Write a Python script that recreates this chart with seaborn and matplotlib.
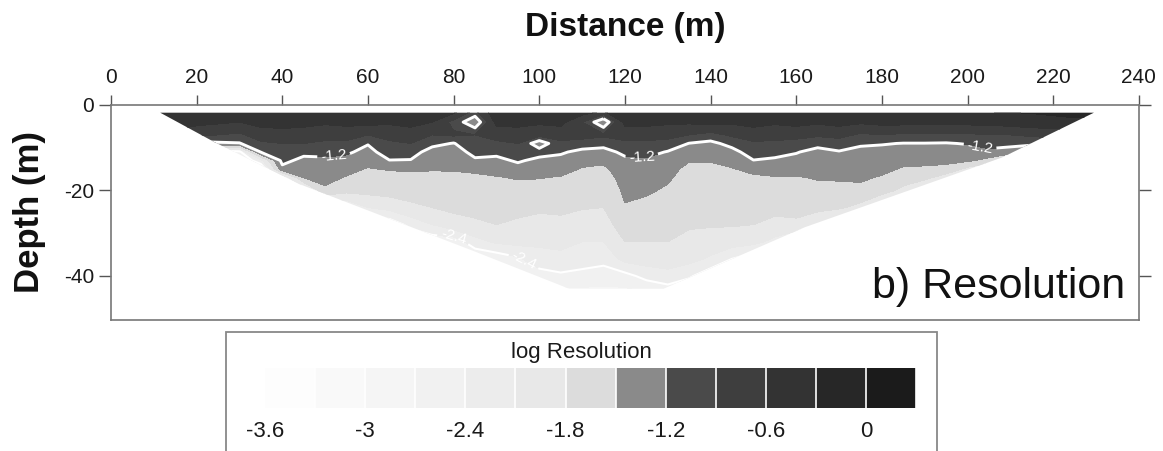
import numpy as np
import matplotlib
matplotlib.use("Agg")
import matplotlib.pyplot as plt
from matplotlib.patches import Polygon, Rectangle
import seaborn as sns

# ---------------- data ----------------
distance_m = [10, 15, 20, 25, 30, 35, 40, 45, 50, 55, 60, 65, 70, 75, 80, 85, 90,
              95, 100, 105, 110, 115, 120, 125, 130, 135, 140, 145, 150, 155, 160,
              165, 170, 175, 180, 185, 190, 195, 200, 205, 210, 215, 220, 225, 230]
depth_m = [-1, -4, -7, -9, -11, -13, -15, -17, -20, -24, -28, -32, -36, -40, -44]

# log10 resolution, one list per distance column (top -> bottom, same order as depth_m)
log_res_columns = [
    [-0.3, -0.45, -0.7, -0.9, -1.1, -1.3, -1.5, -1.8, -2.2, -2.5, -2.6, -2.6, -2.6, -2.6, -2.6],   # 10
    [-0.3, -0.45, -0.7, -0.9, -1.1, -1.3, -1.5, -1.8, -2.2, -2.5, -2.6, -2.6, -2.6, -2.6, -2.6],   # 15
    [-0.35, -0.5, -0.85, -1.3, -1.8, -2.3, -2.5, -2.5, -2.5, -2.5, -2.5, -2.5, -2.5, -2.5, -2.5],  # 20
    [-0.35, -0.55, -0.9, -1.25, -2.6, -2.7, -2.7, -2.7, -2.7, -2.7, -2.7, -2.7, -2.7, -2.7, -2.7], # 25
    [-0.4, -0.6, -0.95, -1.22, -2.5, -2.7, -2.7, -2.7, -2.7, -2.7, -2.7, -2.7, -2.7, -2.7, -2.7],  # 30
    [-0.35, -0.5, -0.75, -0.95, -1.18, -2.2, -2.7, -2.7, -2.7, -2.7, -2.7, -2.7, -2.7, -2.7, -2.7],# 35
    [-0.25, -0.5, -0.7, -0.9, -1.0, -1.1, -1.3, -2.4, -2.7, -2.7, -2.7, -2.7, -2.7, -2.7, -2.7],   # 40
    [-0.35, -0.5, -0.75, -0.9, -1.1, -1.3, -1.42, -1.5, -2.3, -2.7, -2.7, -2.7, -2.7, -2.7, -2.7], # 45
    [-0.4, -0.55, -0.8, -0.95, -1.1, -1.27, -1.35, -1.42, -1.55, -2.5, -2.7, -2.7, -2.7, -2.7, -2.7],  # 50
    [-0.35, -0.5, -0.8, -0.95, -1.15, -1.3, -1.42, -1.52, -1.7, -2.4, -2.7, -2.7, -2.7, -2.7, -2.7],   # 55
    [-0.4, -0.5, -0.9, -1.18, -1.3, -1.4, -1.52, -1.65, -1.7, -2.1, -2.6, -2.7, -2.7, -2.7, -2.7],     # 60
    [-0.35, -0.55, -0.8, -0.95, -1.05, -1.21, -1.48, -1.6, -1.68, -2.0, -2.6, -2.7, -2.7, -2.7, -2.7], # 65
    [-0.35, -0.5, -0.75, -0.9, -1.05, -1.22, -1.45, -1.6, -1.7, -1.85, -2.3, -2.7, -2.7, -2.7, -2.7],  # 70
    [-0.35, -0.6, -0.9, -1.1, -1.35, -1.4, -1.48, -1.58, -1.7, -1.8, -2.1, -2.6, -2.7, -2.7, -2.7],    # 75
    [-0.4, -1.0, -0.85, -1.22, -1.35, -1.42, -1.48, -1.56, -1.65, -1.75, -1.9, -2.6, -2.7, -2.7, -2.7],# 80
    [-0.9, -1.45, -0.9, -0.95, -1.1, -1.25, -1.45, -1.55, -1.65, -1.72, -1.85, -2.2, -2.7, -2.7, -2.7],# 85
    [-0.35, -0.5, -0.8, -0.95, -1.1, -1.3, -1.4, -1.52, -1.62, -1.7, -1.8, -2.05, -2.6, -2.7, -2.7],   # 90
    [-0.25, -0.5, -0.75, -0.9, -1.0, -1.15, -1.35, -1.48, -1.6, -1.72, -1.85, -2.0, -2.45, -2.7, -2.7],# 95
    [-0.35, -0.55, -0.8, -1.4, -1.05, -1.3, -1.42, -1.49, -1.6, -1.75, -1.9, -2.05, -2.2, -2.55, -2.7],# 100
    [-0.3, -0.5, -0.8, -0.95, -1.15, -1.32, -1.4, -1.52, -1.6, -1.72, -1.9, -2.0, -2.2, -2.45, -2.8],  # 105
    [-0.35, -0.9, -0.8, -1.0, -1.3, -1.42, -1.52, -1.6, -1.68, -1.78, -1.95, -2.1, -2.25, -2.5, -2.8], # 110
    [-0.5, -1.45, -0.85, -1.05, -1.35, -1.45, -1.55, -1.62, -1.7, -1.8, -1.95, -2.1, -2.3, -2.55, -2.8],# 115
    [-0.35, -0.5, -0.8, -0.95, -1.1, -1.3, -1.35, -1.4, -1.45, -1.52, -1.62, -1.8, -2.0, -2.5, -2.8],  # 120
    [-0.3, -0.5, -0.8, -0.95, -1.1, -1.25, -1.32, -1.38, -1.45, -1.6, -1.7, -1.8, -1.95, -2.3, -2.7],  # 125
    [-0.35, -0.55, -0.8, -1.0, -1.22, -1.3, -1.38, -1.45, -1.55, -1.65, -1.75, -1.8, -1.95, -2.2, -2.6],# 130
    [-0.35, -0.55, -0.9, -1.21, -1.35, -1.48, -1.6, -1.65, -1.68, -1.72, -1.78, -1.85, -2.0, -2.35, -2.7],# 135
    [-0.3, -0.5, -1.0, -1.28, -1.38, -1.48, -1.58, -1.65, -1.7, -1.72, -1.78, -1.9, -2.15, -2.6, -2.7], # 140
    [-0.35, -0.55, -0.85, -1.1, -1.3, -1.4, -1.52, -1.6, -1.68, -1.72, -1.78, -1.95, -2.4, -2.7, -2.7], # 145
    [-0.25, -0.5, -0.75, -0.95, -1.05, -1.21, -1.42, -1.55, -1.65, -1.72, -1.8, -2.0, -2.6, -2.7, -2.7],# 150
    [-0.25, -0.55, -0.8, -0.95, -1.1, -1.25, -1.38, -1.52, -1.65, -1.75, -1.85, -2.2, -2.6, -2.7, -2.7],# 155
    [-0.3, -0.5, -0.8, -1.0, -1.18, -1.3, -1.4, -1.52, -1.62, -1.72, -1.85, -2.5, -2.7, -2.7, -2.7],   # 160
    [-0.35, -0.55, -0.85, -1.1, -1.3, -1.35, -1.42, -1.48, -1.58, -1.7, -2.1, -2.6, -2.7, -2.7, -2.7], # 165
    [-0.3, -0.5, -0.8, -1.05, -1.22, -1.32, -1.4, -1.47, -1.58, -1.75, -2.4, -2.7, -2.7, -2.7, -2.7],  # 170
    [-0.25, -0.55, -0.95, -1.15, -1.3, -1.36, -1.42, -1.47, -1.55, -1.9, -2.5, -2.7, -2.7, -2.7, -2.7],# 175
    [-0.3, -0.5, -0.9, -1.18, -1.3, -1.38, -1.45, -1.52, -1.65, -2.3, -2.6, -2.7, -2.7, -2.7, -2.7],   # 180
    [-0.25, -0.5, -0.95, -1.21, -1.35, -1.45, -1.52, -1.62, -1.9, -2.5, -2.7, -2.7, -2.7, -2.7, -2.7], # 185
    [-0.3, -0.5, -0.95, -1.21, -1.35, -1.45, -1.53, -1.7, -2.3, -2.6, -2.7, -2.7, -2.7, -2.7, -2.7],   # 190
    [-0.25, -0.5, -0.95, -1.22, -1.36, -1.46, -1.55, -2.0, -2.5, -2.7, -2.7, -2.7, -2.7, -2.7, -2.7],  # 195
    [-0.3, -0.5, -0.95, -1.18, -1.35, -1.45, -1.9, -2.5, -2.7, -2.7, -2.7, -2.7, -2.7, -2.7, -2.7],    # 200
    [-0.25, -0.5, -0.9, -1.05, -1.3, -1.6, -2.2, -2.6, -2.7, -2.7, -2.7, -2.7, -2.7, -2.7, -2.7],      # 205
    [-0.25, -0.45, -0.9, -1.1, -1.35, -2.0, -2.5, -2.7, -2.7, -2.7, -2.7, -2.7, -2.7, -2.7, -2.7],     # 210
    [-0.25, -0.4, -0.85, -1.1, -1.6, -2.2, -2.6, -2.7, -2.7, -2.7, -2.7, -2.7, -2.7, -2.7, -2.7],      # 215
    [-0.2, -0.4, -0.8, -1.1, -1.5, -2.0, -2.5, -2.7, -2.7, -2.7, -2.7, -2.7, -2.7, -2.7, -2.7],        # 220
    [-0.2, -0.35, -0.75, -1.1, -1.5, -2.0, -2.5, -2.7, -2.7, -2.7, -2.7, -2.7, -2.7, -2.7, -2.7],      # 225
    [-0.2, -0.35, -0.75, -1.1, -1.5, -2.0, -2.5, -2.7, -2.7, -2.7, -2.7, -2.7, -2.7, -2.7, -2.7],      # 230
]

# outline of the imaged section (distance, depth)
section_dist = [11.5, 24, 44, 85, 107, 129, 162, 208, 229.5]
section_depth = [-1.8, -8.6, -18.5, -34.3, -43, -43, -28.6, -12.3, -1.8]

level_bounds = [-3.6, -3.3, -3.0, -2.7, -2.4, -2.1, -1.8, -1.5, -1.2, -0.9, -0.6, -0.3, 0.0, 0.3]
level_colors = ["#fdfdfd", "#f9f9f9", "#f5f5f5", "#f1f1f1", "#ececec", "#e8e8e8", "#dcdcdc",
                "#8a8a8a", "#4a4a4a", "#3e3e3e", "#333333", "#272727", "#1b1b1b"]
contour_levels = [-2.4, -1.2]
cbar_ticks = [-3.6, -3.0, -2.4, -1.8, -1.2, -0.6, 0.0]
cbar_ticklabels = ["-3.6", "-3", "-2.4", "-1.8", "-1.2", "-0.6", "0"]
x_ticks = [0, 20, 40, 60, 80, 100, 120, 140, 160, 180, 200, 220, 240]
y_ticks = [0, -20, -40]

# ---------------- style ----------------
sns.set_theme(style="white")
plt.rcParams["font.family"] = ["Liberation Sans", "DejaVu Sans"]
plt.rcParams["axes.unicode_minus"] = False
plt.rcParams["contour.negative_linestyle"] = "solid"

fig = plt.figure(figsize=(11.63, 4.51), dpi=100)
fig.patch.set_facecolor("white")
ax = fig.add_axes([0.0954, 0.2905, 0.8839, 0.4767])

Z = np.array(log_res_columns).T
palette = sns.color_palette(level_colors)

cf = ax.contourf(distance_m, depth_m, Z, levels=level_bounds, colors=palette)
section = Polygon(np.column_stack([section_dist, section_depth]), closed=True,
                  transform=ax.transData)
cf.set_clip_path(section)

cl = ax.contour(distance_m, depth_m, Z, levels=contour_levels, colors="white",
                linewidths=[1.5, 2.1], linestyles="solid")
cl.set_clip_path(section)
ax.clabel(cl, fmt={-2.4: "-2.4", -1.2: "-1.2"}, fontsize=11, colors="white", inline=True,
          manual=[(52, -11.8), (124, -12.3), (203, -9.4), (80, -30.9), (97, -35.5)])

ax.set_xlim(0, 240)
ax.set_ylim(-50.3, 0)
ax.set_xticks(x_ticks)
ax.set_xticklabels([str(v) for v in x_ticks])
ax.set_yticks(y_ticks)
ax.set_yticklabels([str(v) for v in y_ticks])
ax.tick_params(axis="x", top=True, bottom=False, labeltop=True, labelbottom=False,
               direction="out", length=7.2, width=1.0, color="#555555",
               labelsize=15, labelcolor="#1a1a1a", pad=5.5)
ax.tick_params(axis="y", left=True, right=True, labelleft=True, labelright=False,
               direction="out", length=8.5, width=1.0, color="#555555",
               labelsize=15, labelcolor="#1a1a1a", pad=3.5)
for s in ax.spines.values():
    s.set_color("#777777")
    s.set_linewidth(1.2)
ax.grid(False)

ax.set_xlabel("Distance (m)", fontsize=24, fontweight="bold", color="#111111")
ax.xaxis.set_label_position("top")
ax.xaxis.set_label_coords(0.5, 1.36)
ax.xaxis.label.set_va("center")
ax.set_ylabel("Depth (m)", fontsize=25, fontweight="bold", color="#111111")
ax.yaxis.set_label_coords(-0.079, 0.5)
ax.yaxis.label.set_va("center")

ax.text(0.9864, 0.1, "b) Resolution", transform=ax.transAxes, ha="right",
        va="baseline", fontsize=31, color="#111111")

# ---------------- colour bar in its framed box ----------------
fig.add_artist(Rectangle((0.1943, -0.05), 0.6113, 0.3139, transform=fig.transFigure,
                         fill=False, edgecolor="#888888", linewidth=1.3))
cax = fig.add_axes([0.2279, 0.0953, 0.5598, 0.0887])
cb = fig.colorbar(cf, cax=cax, orientation="horizontal", drawedges=True)
cb.outline.set_visible(False)
cb.dividers.set_color("white")
cb.dividers.set_linewidth(1.2)
cb.set_ticks(cbar_ticks, labels=cbar_ticklabels)
cax.tick_params(length=0, labelsize=16, pad=9, labelcolor="#1a1a1a")
fig.text(0.4996, 0.2173, "log Resolution", ha="center", va="center", fontsize=16,
         color="#1a1a1a")

fig.savefig("out.png", dpi=100, facecolor="white")
